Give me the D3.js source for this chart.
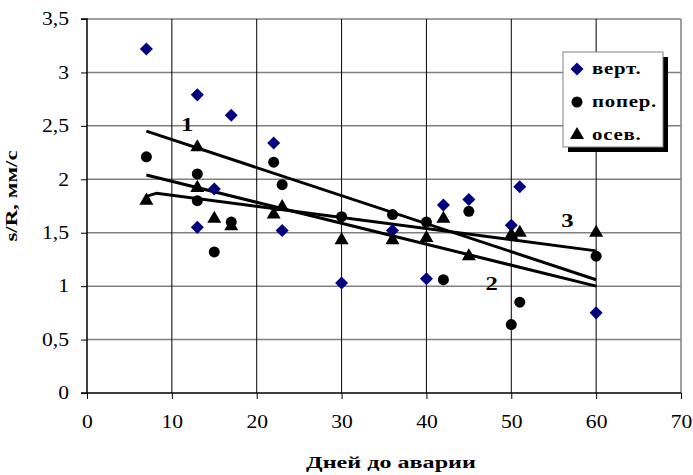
<!DOCTYPE html>
<html lang="ru">
<head>
<meta charset="UTF-8" />
<style>
  body { margin: 0; background: #fff; }
  svg text { font-family: "Liberation Serif", "Times New Roman", serif; }
</style>
</head>
<body>
<svg id="chart" width="693" height="475"></svg>
<script src="https://d3js.org/d3.v7.min.js"></script>
<script>
// points: [days, s/R]
var vert = [[7,3.22],[13,2.79],[17,2.60],[22,2.34],[13,1.55],[15,1.91],[23,1.52],[30,1.03],
            [36,1.52],[40,1.07],[42,1.76],[45,1.81],[50,1.57],[51,1.93],[60,0.75]]
var poper = [[7,2.21],[13,2.05],[13,1.80],[15,1.32],[17,1.60],[22,2.16],[23,1.95],[30,1.65],
             [36,1.67],[40,1.60],[42,1.06],[45,1.70],[50,0.64],[51,0.85],[60,1.28]]
var osev = [[7,1.80],[13,2.30],[13,1.92],[15,1.63],[17,1.56],[22,1.67],[23,1.74],[30,1.43],
            [36,1.43],[40,1.45],[42,1.63],[45,1.28],[50,1.48],[51,1.50],[60,1.50]]

// trend lines
var trend1 = [[7,2.45],[60,1.06]]
var trend2 = [[7,2.04],[60,1.00]]
var trend3 = [[7,1.84],[8.2,1.87],[60,1.33]]

var xTicks = [0,10,20,30,40,50,60,70]
var yTicks = [0,0.5,1,1.5,2,2.5,3,3.5]
var legendNames = ["верт.", "попер.", "осев."]
var lineLabels = [["1",11.8,2.45],["2",47.7,0.96],["3",56.6,1.55]]

var svg = d3.select("#chart")
var margin = {left: 87, right: 12, top: 19, bottom: 82}
var width = 693, height = 475
var stretch = 1.3   // the original text is drawn wide

var x = d3.scaleLinear().domain([0,70]).range([margin.left, width - margin.right])
var y = d3.scaleLinear().domain([0,3.5]).range([height - margin.bottom, margin.top])

var fmt = function(v) { return String(v).replace(".", ",") }

// grid
svg.append("g").selectAll("line").data(yTicks.slice(1)).enter().append("line")
    .attr("x1", x(0)).attr("x2", x(70))
    .attr("y1", d => y(d)).attr("y2", d => y(d))
    .attr("stroke", "#808080").attr("stroke-width", 1.5)
svg.append("g").selectAll("line").data(xTicks.slice(1, -1)).enter().append("line")
    .attr("x1", d => x(d)).attr("x2", d => x(d))
    .attr("y1", y(0)).attr("y2", y(3.5))
    .attr("stroke", "#000").attr("stroke-width", 1)
// right border
svg.append("line").attr("x1", x(70)).attr("x2", x(70)).attr("y1", y(0)).attr("y2", y(3.5))
    .attr("stroke", "#808080").attr("stroke-width", 1.5)

// axes
var yAxis = svg.append("g").attr("transform", `translate(${x(0)},0)`)
    .call(d3.axisLeft(y).tickValues(yTicks).tickFormat(fmt).tickSize(6).tickPadding(12))
var xAxis = svg.append("g").attr("transform", `translate(0,${y(0)})`)
    .call(d3.axisBottom(x).tickValues(xTicks).tickFormat(fmt).tickSize(6).tickPadding(16))
;[yAxis, xAxis].forEach(function(g) {
    g.select(".domain").attr("stroke", "#000").attr("stroke-width", 1.5)
    g.selectAll(".tick line").attr("stroke", "#000").attr("stroke-width", 1)
    g.selectAll("text").attr("font-size", "18px").attr("fill", "#000")
        .style("font-family", '"Liberation Serif", serif')
})
yAxis.selectAll("text").attr("x", -18 / 1.2).attr("transform", "scale(1.2,1)")
xAxis.selectAll("text").attr("transform", "scale(1.2,1)")
yAxis.select(".domain").attr("d", `M-6,${y(3.5)}H0V${y(0)}`)
xAxis.select(".domain").attr("d", `M${x(0)-6},0H${x(70)}`)

// trend lines
var line = d3.line().x(d => x(d[0])).y(d => y(d[1]))
svg.append("g").selectAll("path").data([trend1, trend2, trend3]).enter().append("path")
    .attr("d", line).attr("fill", "none").attr("stroke", "#000").attr("stroke-width", 3)

// markers
var diamond = d3.symbol().type(d3.symbolSquare).size(85)
var circle = d3.symbol().type(d3.symbolCircle).size(95)
var triangle = d3.symbol().type(d3.symbolTriangle).size(85)

function drawMarks(data, sym, color, rot) {
    svg.append("g").selectAll("path").data(data).enter().append("path")
        .attr("d", sym)
        .attr("transform", d => `translate(${x(d[0])},${y(d[1])}) rotate(${rot})`)
        .attr("fill", color)
}
drawMarks(vert, diamond, "#000080", 45)
drawMarks(poper, circle, "#000", 0)
drawMarks(osev, triangle, "#000", 0)

// line labels
svg.append("g").selectAll("text").data(lineLabels).enter().append("text")
    .attr("transform", d => `translate(${x(d[1])},${y(d[2])}) scale(${stretch},1)`)
    .attr("text-anchor", "middle").attr("font-weight", "bold").attr("font-size", "19px")
    .text(d => d[0])

// legend
var lg = svg.append("g").attr("transform", "translate(563,52)")
lg.append("rect").attr("x", 5).attr("y", 5).attr("width", 100).attr("height", 95).attr("fill", "#000")
lg.append("rect").attr("width", 100).attr("height", 95).attr("fill", "#fff")
    .attr("stroke", "#808080").attr("stroke-width", 1)
var syms = [[diamond, "#000080", 45], [circle, "#000", 0], [triangle, "#000", 0]]
legendNames.forEach(function(name, i) {
    var cy = 17 + i * 33
    lg.append("path").attr("d", syms[i][0]).attr("fill", syms[i][1])
        .attr("transform", `translate(14,${cy}) rotate(${syms[i][2]})`)
    lg.append("text").attr("transform", `translate(29,${cy + 5}) scale(${stretch},1)`)
        .attr("font-weight", "bold").attr("font-size", "16px").attr("letter-spacing", "0.6px")
        .text(name)
})

// axis titles
svg.append("text").attr("transform", `translate(391,468) scale(1.42,1)`)
    .attr("text-anchor", "middle")
    .attr("font-weight", "bold").attr("font-size", "17px")
    .text("Дней до аварии")
svg.append("text").attr("transform", `translate(17,196) rotate(-90) scale(1.35,1)`)
    .attr("text-anchor", "middle")
    .attr("font-weight", "bold").attr("font-size", "17px")
    .text("s/R, мм/с")
</script>
</body>
</html>
